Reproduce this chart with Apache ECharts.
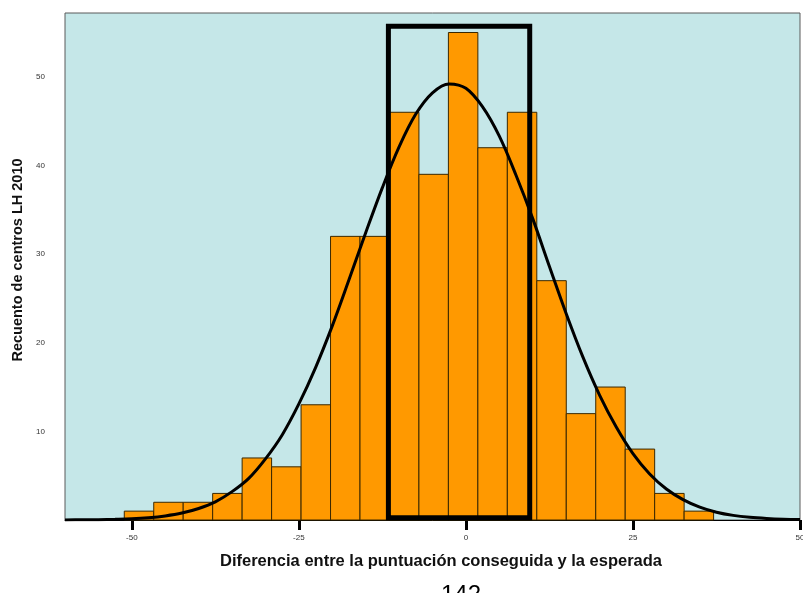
<!DOCTYPE html>
<html>
<head>
<meta charset="utf-8">
<script src="https://cdn.jsdelivr.net/npm/echarts@6/dist/echarts.min.js"></script>
<style>
  html, body { margin: 0; padding: 0; background: #fff; }
  #chart { width: 803px; height: 593px; }
</style>
</head>
<body>
<div id="chart"></div>
<script>
// Histogram bin edges (difference between achieved and expected score)
const binEdges = [-51.13, -46.72, -42.31, -37.90, -33.49, -29.08, -24.67, -20.26, -15.85, -11.44,
                  -7.03, -2.62, 1.79, 6.20, 10.61, 15.02, 19.43, 23.84, 28.25, 32.66, 37.07];
// Number of schools in each bin
const binCounts = [1, 2, 2, 3, 7, 6, 13, 32, 32, 46, 39, 55, 42, 46, 27, 12, 15, 8, 3, 1];

// Fitted normal curve, sampled points
const curveX = [-60, -57.5, -55, -52.5, -50, -47.5, -45, -42.5, -40, -37.5, -35, -32.5, -30, -27.5,
                -25, -22.5, -20, -17.5, -15, -12.5, -10, -7.5, -5, -2.5, 0, 2.5, 5, 7.5, 10, 12.5,
                15, 17.5, 20, 22.5, 25, 27.5, 30, 32.5, 35, 37.5, 40, 42.5, 45, 47.5, 50];
const curveY = [0.01, 0.02, 0.04, 0.08, 0.14, 0.26, 0.46, 0.78, 1.3, 2.05, 3.2, 4.7, 6.9, 9.6,
                13.1, 17.2, 21.9, 27.1, 32.4, 37.5, 42.1, 45.8, 48.2, 49.2, 48.7, 46.6, 43.3, 38.9, 34.0, 28.6,
                23.3, 18.4, 14.1, 10.5, 7.5, 5.2, 3.5, 2.3, 1.45, 0.88, 0.52, 0.3, 0.17, 0.09, 0.05];

// Highlighted central band [xFrom, xTo, yFrom, yTo]
const bandBox = [-11.6, 9.55, 0.25, 55.7];

const xTicks = [-50, -25, 0, 25, 50];
const yTicks = [10, 20, 30, 40, 50];

const xTitle = 'Diferencia entre la puntuación conseguida y la esperada';
const yTitle = 'Recuento de centros LH 2010';
const pageNumber = '142';

const histData = binCounts.map((c, i) => [binEdges[i], binEdges[i + 1], c]);
const curveData = curveX.map((x, i) => [x, curveY[i]]);
const midX = (bandBox[0] + bandBox[1]) / 2;
const boxData = [
  [midX, bandBox[2]], [bandBox[0], bandBox[2]], [bandBox[0], bandBox[3]],
  [bandBox[1], bandBox[3]], [bandBox[1], bandBox[2]], [midX, bandBox[2]]
];

const FONT = 'Liberation Sans, Arial, sans-serif';

const chart = echarts.init(document.getElementById('chart'), null, { renderer: 'canvas' });
chart.setOption({
  animation: false,
  backgroundColor: '#ffffff',
  textStyle: { fontFamily: FONT },
  grid: {
    left: 65, top: 13, right: 3, bottom: 73,
    outerBoundsMode: 'none',
    containLabel: false,
    show: true, backgroundColor: '#C5E7E8', borderColor: '#5a5a5a', borderWidth: 1
  },
  xAxis: {
    type: 'value', min: -60, max: 50,
    splitLine: { show: false },
    axisLine: { show: true, lineStyle: { color: '#000', width: 1 } },
    axisTick: { show: true, customValues: xTicks, length: 10, lineStyle: { color: '#000', width: 3 } },
    axisLabel: { customValues: xTicks, fontSize: 8, color: '#333', margin: 14 }
  },
  yAxis: {
    type: 'value', min: 0, max: 57.2,
    splitLine: { show: false },
    axisLine: { show: false },
    axisTick: { show: true, customValues: yTicks, length: 15, lineStyle: { color: '#000', width: 3 } },
    axisLabel: { customValues: yTicks, fontSize: 8, color: '#333', margin: 20 }
  },
  series: [
    {
      type: 'custom',
      data: histData,
      encode: { x: [0, 1], y: 2 },
      renderItem: function (params, api) {
        const p0 = api.coord([api.value(0), api.value(2)]);
        const p1 = api.coord([api.value(1), 0]);
        return {
          type: 'rect',
          shape: { x: p0[0], y: p0[1], width: p1[0] - p0[0], height: p1[1] - p0[1] },
          style: { fill: '#FF9900', stroke: '#3a2800', lineWidth: 1 }
        };
      },
      z: 2
    },
    {
      type: 'line',
      data: curveData,
      smooth: 0.35,
      showSymbol: false,
      lineStyle: { color: '#000', width: 3 },
      z: 3
    },
    {
      type: 'line',
      data: boxData,
      showSymbol: false,
      lineStyle: { color: '#000', width: 5, join: 'miter' },
      z: 4
    }
  ],
  graphic: [
    {
      type: 'text', x: 441, y: 561,
      style: { text: xTitle, fontSize: 16.5, fontWeight: 'bold', fill: '#111', fontFamily: FONT,
               align: 'center', verticalAlign: 'middle' }
    },
    {
      type: 'text', x: 18, y: 260, rotation: Math.PI / 2,
      style: { text: yTitle, fontSize: 14.5, fontWeight: 'bold', fill: '#111', fontFamily: FONT,
               align: 'center', verticalAlign: 'middle' }
    },
    {
      type: 'text', x: 461, y: 583,
      style: { text: pageNumber, fontSize: 24, fill: '#000', fontFamily: FONT,
               align: 'center', verticalAlign: 'top' }
    }
  ]
});
</script>
</body>
</html>
